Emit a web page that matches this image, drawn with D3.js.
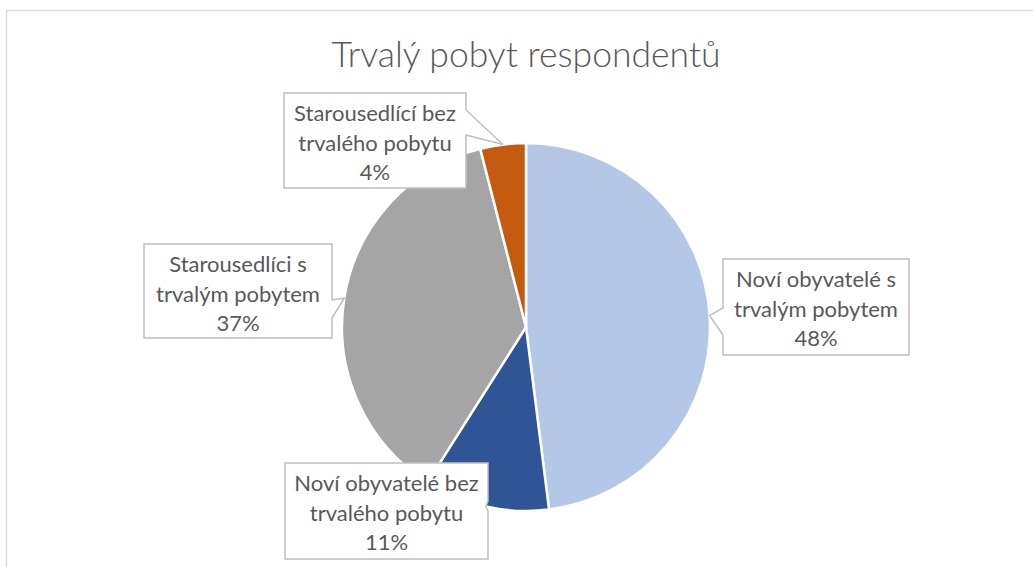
<!DOCTYPE html>
<html>
<head>
<meta charset="utf-8">
<style>
  body { margin: 0; background: #fff; }
  svg { display: block; }
</style>
</head>
<body>
<svg width="1033" height="567" font-family="Lato, sans-serif"></svg>
<script src="https://cdn.jsdelivr.net/npm/d3@7"></script>
<script>

// data, clockwise from 12 o'clock
var labels = [
  ["Noví obyvatelé s", "trvalým pobytem"],
  ["Noví obyvatelé bez", "trvalého pobytu"],
  ["Starousedlíci s", "trvalým pobytem"],
  ["Starousedlící bez", "trvalého pobytu"]
];
var values = [48, 11, 37, 4];
var colors = ["#b4c7e7", "#2f5597", "#a5a5a5", "#c55a11"];
var title = "Trvalý pobyt respondentů";

// callout boxes (layout only): x, y, w, h, side of the pointer, notch from/to along that side
var boxes = [
  {x: 723, y: 259, w: 186, h: 96, side: "left",  n0: 49, n1: 76},
  {x: 285, y: 463, w: 203, h: 96, side: "right", n0: 38, n1: 48},
  {x: 144, y: 244, w: 188, h: 94, side: "right", n0: 56, n1: 74},
  {x: 284, y: 93,  w: 182, h: 95, side: "right", n0: 17, n1: 42}
];

var svg = d3.select("svg"),
    width = +svg.attr("width"),
    height = +svg.attr("height");

var cx = 526, cy = 327, radius = 184;

// chart area frame
svg.append("rect")
    .attr("x", 6.5).attr("y", 10.5)
    .attr("width", width + 10).attr("height", height + 10)
    .attr("fill", "none")
    .attr("stroke", "#d9d9d9")
    .attr("stroke-width", 1.5);

svg.append("text")
    .attr("x", cx)
    .attr("y", 67)
    .attr("text-anchor", "middle")
    .attr("font-size", 35.5)
    .attr("font-weight", 300)
    .attr("fill", "#595959")
    .text(title);

var total = d3.sum(values);
var pie = d3.pie().sort(null).value(function(d) { return d; });
var arcs = pie(values);

var arc = d3.arc().innerRadius(0).outerRadius(radius);

var g = svg.append("g").attr("transform", "translate(" + cx + "," + cy + ")");

g.selectAll("path")
  .data(arcs)
  .enter().append("path")
    .attr("d", arc)
    .attr("fill", function(d, i) { return colors[i]; })
    .attr("stroke", "#fff")
    .attr("stroke-width", 2.5)
    .attr("stroke-linejoin", "round");

function calloutPath(b, tx, ty) {
  var x0 = b.x, y0 = b.y, x1 = b.x + b.w, y1 = b.y + b.h;
  if (b.side === "right") {
    return "M" + x0 + "," + y0 + "H" + x1 + "V" + (y0 + b.n0) +
      "L" + tx + "," + ty + "L" + x1 + "," + (y0 + b.n1) +
      "V" + y1 + "H" + x0 + "Z";
  }
  return "M" + x0 + "," + y0 + "H" + x1 + "V" + y1 + "H" + x0 +
    "V" + (y0 + b.n1) + "L" + tx + "," + ty + "L" + x0 + "," + (y0 + b.n0) + "Z";
}

var fmt = d3.format(".0%");

arcs.forEach(function(a, i) {
  var b = boxes[i];
  var mid = (a.startAngle + a.endAngle) / 2;
  var tx = cx + Math.sin(mid) * radius,
      ty = cy - Math.cos(mid) * radius;

  var lbl = svg.append("g");
  lbl.append("path")
      .attr("d", calloutPath(b, tx, ty))
      .attr("fill", "#fff")
      .attr("stroke", "#bfbfbf")
      .attr("stroke-width", 1.5);

  var lines = labels[i].concat([fmt(a.data / total)]);
  lbl.append("text")
      .attr("text-anchor", "middle")
      .attr("font-size", 22)
      .attr("fill", "#595959")
    .selectAll("tspan")
    .data(lines)
    .enter().append("tspan")
      .attr("x", b.x + b.w / 2)
      .attr("y", function(d, j) { return b.y + 28 + j * 29.5; })
      .text(function(d) { return d; });
});

</script>
</body>
</html>
